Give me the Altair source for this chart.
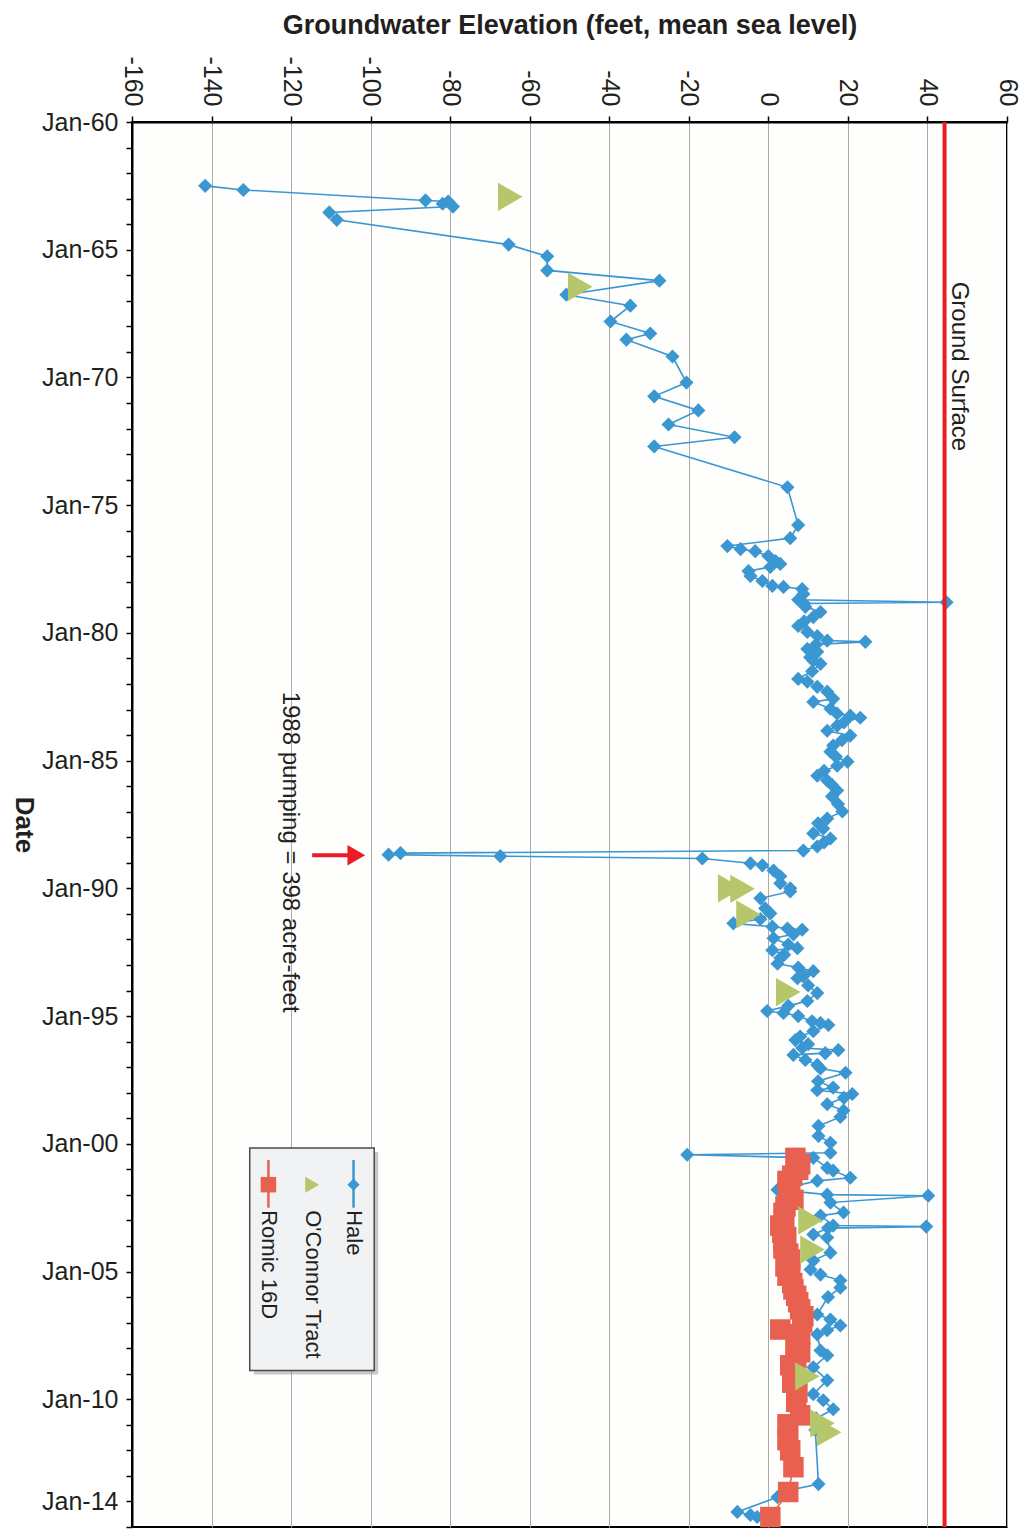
import altair as alt
import pandas as pd

# ---------------- data ----------------
HALE_YEAR = [
    1962.50, 1962.66, 1963.07, 1963.11, 1963.20, 1963.31, 1963.54, 1963.83, 1964.80, 1965.26,
    1965.81, 1966.21, 1966.76, 1967.19, 1967.81, 1968.28, 1968.52, 1969.18, 1970.20, 1970.74,
    1971.29, 1971.84, 1972.34, 1972.70, 1974.30, 1975.78, 1976.29, 1976.60, 1976.72, 1976.80,
    1976.99, 1977.19, 1977.30, 1977.42, 1977.58, 1977.77, 1977.97, 1978.16, 1978.20, 1978.28,
    1978.48, 1978.70, 1978.80, 1978.85, 1978.98, 1979.18, 1979.38, 1979.55, 1979.73, 1979.96,
    1980.12, 1980.30, 1980.35, 1980.45, 1980.63, 1980.74, 1980.95, 1981.09, 1981.21, 1981.50,
    1981.80, 1981.91, 1982.11, 1982.30, 1982.58, 1982.70, 1982.97, 1983.16, 1983.24, 1983.32,
    1983.50, 1983.63, 1983.83, 1984.02, 1984.20, 1984.41, 1984.65, 1984.85, 1985.04, 1985.20,
    1985.40, 1985.59, 1985.78, 1985.95, 1986.17, 1986.40, 1986.70, 1986.99, 1987.27, 1987.45,
    1987.66, 1987.85, 1988.05, 1988.20, 1988.36, 1988.52, 1988.62, 1988.68, 1988.74, 1988.83,
    1989.02, 1989.10, 1989.30, 1989.53, 1989.80, 1990.00, 1990.12, 1990.39, 1990.78, 1990.98,
    1991.20, 1991.37, 1991.50, 1991.57, 1991.62, 1991.80, 1991.95, 1992.20, 1992.34, 1992.42,
    1992.60, 1992.73, 1992.95, 1993.10, 1993.24, 1993.40, 1993.52, 1993.80, 1994.10, 1994.41,
    1994.60, 1994.80, 1994.88, 1995.00, 1995.20, 1995.27, 1995.35, 1995.59, 1995.80, 1995.94,
    1996.10, 1996.25, 1996.33, 1996.45, 1996.52, 1996.72, 1996.91, 1997.05, 1997.22, 1997.55,
    1997.80, 1997.90, 1998.05, 1998.20, 1998.45, 1998.70, 1998.95, 1999.30, 1999.69, 1999.96,
    2000.35, 2000.43, 2000.55, 2000.94, 2001.05, 2001.33, 2001.45, 2001.80, 2001.99, 2002.03,
    2002.30, 2002.69, 2002.81, 2003.20, 2003.24, 2003.30, 2003.55, 2003.67, 2004.26, 2004.57,
    2004.92, 2005.12, 2005.35, 2005.63, 2006.00, 2006.68, 2006.88, 2007.11, 2007.30, 2007.46,
    2008.09, 2008.28, 2008.75, 2009.26, 2009.80, 2010.04, 2010.39, 2010.75, 2011.20, 2013.32,
    2013.55, 2013.83, 2014.41, 2014.53, 2014.61,
]
HALE_ELEV = [
    -141.6, -132.0, -86.2, -80.5, -81.9, -79.3, -110.4, -108.5, -65.3, -55.6,
    -55.6, -27.4, -50.8, -34.7, -39.7, -29.7, -35.7, -24.1, -20.6, -28.7,
    -17.6, -25.1, -8.5, -28.7, 4.8, 7.5, 5.5, -10.3, -7.0, -3.3,
    0.0, 1.8, 3.0, 0.5, -5.0, -4.5, -1.5, 1.0, 3.8, 8.5,
    8.8, 7.5, 44.8, 9.0, 9.3, 13.1, 11.3, 9.0, 7.5, 9.8,
    12.3, 14.8, 24.4, 12.0, 9.8, 12.3, 10.5, 11.3, 13.1, 11.0,
    7.5, 9.8, 12.3, 14.8, 16.3, 11.3, 15.6, 17.3, 20.6, 23.1,
    19.0, 17.3, 14.8, 20.6, 18.5, 16.3, 15.6, 17.0, 19.9, 17.3,
    14.0, 12.3, 14.8, 16.0, 17.3, 16.0, 17.5, 18.6, 14.8, 12.5,
    13.8, 11.3, 15.6, 14.0, 12.3, 8.8, -92.5, -95.5, -67.4, -16.6,
    -4.5, -1.5, 1.3, 3.0, 3.0, 5.5, 5.5, -2.0, -0.8, 0.5,
    -2.0, -8.8, 1.0, 4.8, 8.5, 6.3, 1.3, 5.0, 7.3, 1.0,
    4.0, 3.0, 2.3, 7.5, 11.3, 9.0, 7.3, 10.0, 12.3, 9.8,
    5.0, -0.3, 3.8, 7.5, 11.0, 13.1, 15.1, 11.3, 8.0, 6.8,
    10.0, 8.5, 17.6, 14.3, 6.3, 9.3, 12.3, 13.1, 19.4, 12.5,
    16.3, 12.3, 21.1, 19.0, 14.8, 18.9, 18.1, 12.6, 12.6, 15.6,
    15.6, -20.4, 11.3, 14.8, 16.3, 20.6, 12.3, 2.3, 14.8, 40.2,
    15.6, 18.9, 13.1, 16.3, 39.7, 15.0, 11.3, 14.8, 15.6, 11.3,
    10.6, 13.1, 18.1, 18.1, 15.0, 12.3, 15.6, 18.1, 14.8, 12.3,
    13.1, 14.8, 11.3, 14.8, 11.3, 13.8, 16.3, 12.0, 11.8, 12.6,
    5.5, 2.3, -7.8, -4.5, -2.8,
]

OCONNOR_YEAR = [1962.93, 1966.45, 1990.00, 1990.02, 1991.02, 1994.06, 2003.00, 2004.14, 2009.10, 2010.94, 2011.29]
OCONNOR_ELEV = [-64.9, -47.3, -9.6, -6.5, -5.0, 5.0, 10.6, 11.1, 9.8, 13.6, 15.3]

ROMIC_YEAR = [
    2000.55, 2000.80, 2001.02, 2001.25, 2001.45, 2001.64, 2002.00, 2002.19, 2002.45, 2002.70,
    2002.95, 2003.20, 2003.48, 2003.65, 2003.87, 2004.10, 2004.30, 2004.53, 2004.80, 2005.00,
    2005.16, 2005.45, 2005.70, 2005.95, 2006.20, 2006.48, 2006.75, 2006.99, 2007.27, 2007.46,
    2007.70, 2007.95, 2008.16, 2008.40, 2008.67, 2009.00, 2009.35, 2009.73, 2010.10, 2010.63,
    2010.98, 2011.30, 2011.60, 2012.00, 2012.66, 2013.63, 2014.61,
]
ROMIC_ELEV = [
    6.8, 8.0, 7.5, 6.0, 4.8, 5.5, 5.0, 6.3, 4.3, 3.8,
    4.0, 3.0, 3.5, 4.5, 3.8, 3.8, 5.0, 5.5, 4.3, 5.5,
    4.8, 6.0, 6.3, 7.0, 7.5, 8.0, 8.8, 8.5, 3.0, 8.0,
    7.5, 6.8, 8.0, 7.0, 5.5, 6.5, 6.0, 7.3, 7.0, 8.0,
    4.8, 5.0, 4.8, 5.5, 6.3, 5.0, 0.5,
]

GROUND_SURFACE = 44.3

X_TICKS = [-160, -140, -120, -100, -80, -60, -40, -20, 0, 20, 40, 60]
YEAR_TICKS = list(range(1960, 2016))
DATE_LABEL_YEARS = [1960, 1965, 1970, 1975, 1980, 1985, 1990, 1995, 2000, 2005, 2010, 2014]

LEGEND_LABELS = ["Hale", "O'Connor Tract", "Romic 16D"]

# ---------------- styling ----------------
FONT = "Liberation Sans"
BLUE = "#3b97d1"
GREEN = "#b6c66a"
RED = "#e8604f"
GS_RED = "#ec1c24"
TXT = "#231f20"

xs = alt.Scale(domain=[-160, 60], nice=False, zero=False)
ys = alt.Scale(domain=[1960, 2015], reverse=True, nice=False, zero=False)

label_list = ",".join(str(v) for v in DATE_LABEL_YEARS)
x_axis = alt.Axis(
    orient="top", values=X_TICKS, title="Groundwater Elevation (feet, mean sea level)",
    titleFont=FONT, titleFontSize=27, titleFontWeight="bold", titleColor=TXT, titlePadding=16,
    labelExpr="toString(datum.value)", labelAngle=90, labelAlign="right", labelBaseline="middle",
    labelFont=FONT, labelFontSize=25, labelColor=TXT, labelPadding=10,
    tickSize=6, tickColor="black", tickWidth=1.5,
    domain=True, domainColor="black", domainWidth=2,
    grid=True, gridColor="#ababab", gridWidth=1,
)
y_axis = alt.Axis(
    orient="left", values=YEAR_TICKS,
    labelExpr=f"indexof([{label_list}], datum.value) >= 0 ? 'Jan-' + substring(toString(datum.value), 2, 4) : ''",
    labelFont=FONT, labelFontSize=25, labelColor=TXT, labelPadding=8,
    tickSize=6, tickColor="black", tickWidth=1.5,
    domain=True, domainColor="black", domainWidth=2, grid=False,
    title="Date", titleAngle=90, titleBaseline="top", titleFont=FONT, titleFontSize=26,
    titleFontWeight="bold", titleColor=TXT, titlePadding=5,
)


def X(field="elev"):
    return alt.X(f"{field}:Q", scale=xs, axis=x_axis)


def Y(field="year"):
    return alt.Y(f"{field}:Q", scale=ys, axis=y_axis)


hale = pd.DataFrame({"year": HALE_YEAR, "elev": HALE_ELEV})
oconnor = pd.DataFrame({"year": OCONNOR_YEAR, "elev": OCONNOR_ELEV})
romic = pd.DataFrame({"year": ROMIC_YEAR, "elev": ROMIC_ELEV})

hale_line = alt.Chart(hale).mark_line(color=BLUE, strokeWidth=1.6).encode(
    x=X(), y=Y(), order=alt.Order("year:Q"))
hale_pts = alt.Chart(hale).mark_point(shape="diamond", filled=True, size=200, color=BLUE, opacity=1).encode(
    x=X(), y=Y())

romic_line = alt.Chart(romic).mark_line(color=RED, strokeWidth=1.6).encode(
    x=X(), y=Y(), order=alt.Order("year:Q"))
romic_pts = alt.Chart(romic).mark_point(shape="square", filled=True, size=420, color=RED, opacity=1).encode(
    x=X(), y=Y())

oconnor_pts = alt.Chart(oconnor).mark_point(shape="triangle-right", filled=True, size=800, color=GREEN, opacity=1).encode(
    x=X(), y=Y())

gs = pd.DataFrame({"elev": [GROUND_SURFACE]})
gs_rule = alt.Chart(gs).mark_rule(color=GS_RED, strokeWidth=4).encode(x=X())

gs_text = alt.Chart(pd.DataFrame({"elev": [48.0], "year": [1966.25], "t": ["Ground Surface"]})).mark_text(
    angle=90, align="left", baseline="middle", font=FONT, fontSize=24, color=TXT).encode(
    x=X(), y=Y(), text="t:N")

pump_text = alt.Chart(pd.DataFrame({"elev": [-120.2], "year": [1982.3], "t": ["1988 pumping = 398 acre-feet"]})).mark_text(
    angle=90, align="left", baseline="middle", font=FONT, fontSize=24, color=TXT).encode(
    x=X(), y=Y(), text="t:N")

arrow_shaft = alt.Chart(pd.DataFrame({"elev": [-114.7], "elev2": [-105.0], "year": [1988.70]})).mark_rule(
    color=GS_RED, strokeWidth=4).encode(x=X(), x2="elev2:Q", y=Y())
arrow_head = alt.Chart(pd.DataFrame({"elev": [-103.6], "year": [1988.70]})).mark_point(
    shape="triangle-right", filled=True, size=420, color=GS_RED, opacity=1).encode(x=X(), y=Y())

# ---------------- custom rotated legend ----------------
leg_shadow = alt.Chart(pd.DataFrame({"elev": [-129.4], "elev2": [-98.1], "year": [2000.32], "year2": [2009.03]})).mark_rect(
    color="#9a9a9a", opacity=0.55).encode(x=X(), x2="elev2:Q", y=Y(), y2="year2:Q")
leg_box = alt.Chart(pd.DataFrame({"elev": [-130.4], "elev2": [-99.1], "year": [2000.16], "year2": [2008.87]})).mark_rect(
    fill="#f1f2f4", stroke="#4a4a4a", strokeWidth=1.5).encode(x=X(), x2="elev2:Q", y=Y(), y2="year2:Q")

leg_lines = alt.Chart(pd.DataFrame({
    "elev": [-104.3, -125.7], "year": [2000.63, 2000.63], "year2": [2002.5, 2002.5], "c": [BLUE, RED]})).mark_rule(
    strokeWidth=2.5).encode(x=X(), y=Y(), y2="year2:Q", color=alt.Color("c:N", scale=None))
leg_diamond = alt.Chart(pd.DataFrame({"elev": [-104.3], "year": [2001.6]})).mark_point(
    shape="diamond", filled=True, size=150, color=BLUE, opacity=1).encode(x=X(), y=Y())
leg_tri = alt.Chart(pd.DataFrame({"elev": [-114.7], "year": [2001.6]})).mark_point(
    shape="triangle-right", filled=True, size=260, color=GREEN, opacity=1).encode(x=X(), y=Y())
leg_sq = alt.Chart(pd.DataFrame({"elev": [-125.7], "year": [2001.6]})).mark_point(
    shape="square", filled=True, size=240, color=RED, opacity=1).encode(x=X(), y=Y())
leg_text = alt.Chart(pd.DataFrame({"elev": [-104.3, -114.5, -125.5], "year": [2002.6] * 3, "t": LEGEND_LABELS})).mark_text(
    angle=90, align="left", baseline="middle", font=FONT, fontSize=22, color=TXT).encode(
    x=X(), y=Y(), text="t:N")

chart = alt.layer(
    hale_line, hale_pts, romic_line, romic_pts, oconnor_pts, gs_rule, gs_text, pump_text,
    arrow_shaft, arrow_head, leg_shadow, leg_box, leg_lines, leg_diamond, leg_tri, leg_sq, leg_text,
).properties(
    width=875, height=1405,
    autosize=alt.AutoSizeParams(type="none"),
    padding={"left": 124, "top": 114, "right": 14, "bottom": 2},
    background="white",
).configure_view(
    fill="#fefefc", stroke="black", strokeWidth=2,
)

chart.save("out.html", embed_options={"renderer": "svg", "actions": False})
